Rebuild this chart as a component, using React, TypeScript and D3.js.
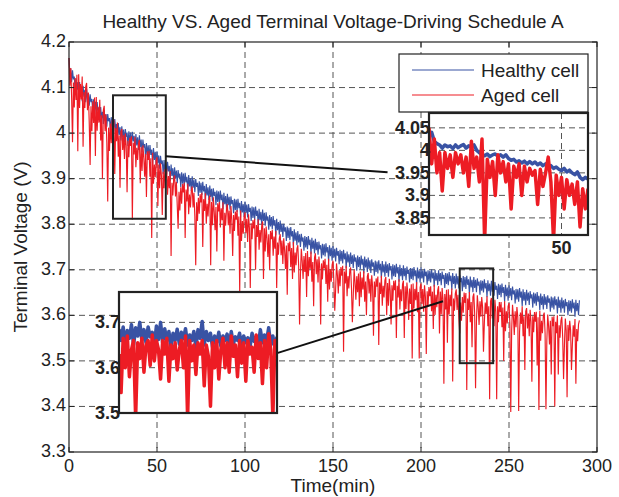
import React from "react";
import * as d3 from "d3";

// ---------- data ----------
const title = "Healthy VS. Aged Terminal Voltage-Driving Schedule A";
const xTicks = [0, 50, 100, 150, 200, 250, 300];
const yTicks = [3.3, 3.4, 3.5, 3.6, 3.7, 3.8, 3.9, 4.0, 4.1, 4.2];
const yTickLabels = ["3.3", "3.4", "3.5", "3.6", "3.7", "3.8", "3.9", "4", "4.1", "4.2"];
const seriesNames = ["Healthy cell", "Aged cell"];

// terminal voltage in mV, samples every 0.5 min from t = 0 to 290 min
const sampleStep = 0.5;
const healthyMv = [
  4165, 4128, 4142, 4112, 4138, 4118, 4124, 4094, 4120, 4095,
  4112, 4086, 4112, 4092, 4102, 4070, 4104, 4080, 4095, 4068,
  4097, 4072, 4088, 4060, 4085, 4068, 4075, 4046, 4074, 4050,
  4069, 4042, 4068, 4047, 4056, 4025, 4057, 4032, 4047, 4020,
  4050, 4026, 4042, 4014, 4042, 4026, 4033, 4004, 4035, 4009,
  4031, 4003, 4031, 4009, 4020, 3987, 4022, 3996, 4013, 3984,
  4015, 3990, 4008, 3980, 4009, 3992, 4001, 3972, 4004, 3979,
  4001, 3974, 4003, 3982, 3994, 3962, 3998, 3973, 3991, 3963,
  3995, 3969, 3986, 3958, 3986, 3968, 3976, 3947, 3978, 3952,
  3973, 3945, 3974, 3952, 3964, 3931, 3967, 3941, 3959, 3930,
  3960, 3934, 3951, 3922, 3950, 3932, 3940, 3910, 3941, 3915,
  3936, 3909, 3937, 3916, 3928, 3895, 3931, 3906, 3923, 3895,
  3925, 3900, 3918, 3890, 3919, 3902, 3911, 3882, 3914, 3889,
  3911, 3884, 3913, 3892, 3904, 3872, 3908, 3883, 3901, 3873,
  3905, 3880, 3898, 3870, 3899, 3882, 3891, 3862, 3894, 3869,
  3891, 3864, 3893, 3872, 3884, 3852, 3888, 3863, 3881, 3853,
  3885, 3860, 3878, 3850, 3879, 3862, 3871, 3842, 3874, 3849,
  3872, 3845, 3874, 3853, 3865, 3833, 3869, 3844, 3862, 3834,
  3867, 3842, 3860, 3832, 3861, 3844, 3853, 3824, 3856, 3831,
  3854, 3827, 3856, 3835, 3847, 3815, 3851, 3826, 3844, 3816,
  3850, 3825, 3843, 3815, 3844, 3827, 3836, 3807, 3839, 3814,
  3837, 3810, 3839, 3818, 3830, 3798, 3834, 3809, 3827, 3799,
  3832, 3807, 3825, 3797, 3826, 3808, 3817, 3788, 3820, 3795,
  3816, 3789, 3818, 3797, 3809, 3776, 3812, 3787, 3805, 3777,
  3808, 3783, 3801, 3772, 3801, 3784, 3793, 3763, 3795, 3770,
  3792, 3765, 3794, 3773, 3785, 3753, 3789, 3764, 3782, 3754,
  3785, 3760, 3778, 3750, 3779, 3762, 3771, 3742, 3774, 3749,
  3772, 3745, 3774, 3754, 3766, 3734, 3770, 3746, 3764, 3736,
  3768, 3743, 3761, 3733, 3762, 3745, 3754, 3725, 3757, 3732,
  3756, 3729, 3758, 3738, 3750, 3718, 3754, 3730, 3748, 3720,
  3752, 3727, 3746, 3718, 3748, 3731, 3741, 3712, 3744, 3719,
  3741, 3714, 3744, 3723, 3736, 3704, 3740, 3716, 3734, 3706,
  3738, 3713, 3732, 3704, 3734, 3718, 3727, 3698, 3731, 3706,
  3728, 3701, 3731, 3711, 3724, 3692, 3729, 3705, 3723, 3695,
  3727, 3702, 3721, 3693, 3723, 3707, 3716, 3687, 3720, 3695,
  3718, 3692, 3721, 3700, 3713, 3682, 3719, 3694, 3712, 3685,
  3718, 3693, 3712, 3685, 3715, 3699, 3708, 3679, 3712, 3686,
  3710, 3684, 3713, 3692, 3706, 3674, 3711, 3686, 3704, 3677,
  3710, 3686, 3704, 3677, 3707, 3691, 3700, 3672, 3704, 3680,
  3703, 3677, 3706, 3686, 3699, 3668, 3705, 3681, 3699, 3672,
  3705, 3681, 3699, 3672, 3702, 3686, 3696, 3667, 3699, 3675,
  3698, 3672, 3701, 3681, 3694, 3663, 3700, 3676, 3693, 3666,
  3699, 3675, 3693, 3666, 3696, 3680, 3689, 3660, 3693, 3669,
  3692, 3666, 3695, 3675, 3687, 3656, 3693, 3669, 3686, 3659,
  3692, 3668, 3686, 3659, 3689, 3673, 3682, 3653, 3686, 3662,
  3684, 3658, 3687, 3667, 3679, 3648, 3685, 3661, 3678, 3651,
  3684, 3660, 3678, 3651, 3681, 3665, 3674, 3645, 3677, 3654,
  3676, 3650, 3679, 3659, 3671, 3640, 3677, 3653, 3670, 3643,
  3676, 3652, 3670, 3643, 3673, 3656, 3665, 3636, 3669, 3645,
  3667, 3640, 3670, 3649, 3662, 3630, 3667, 3642, 3661, 3632,
  3666, 3642, 3660, 3633, 3663, 3646, 3655, 3626, 3658, 3635,
  3657, 3630, 3660, 3639, 3652, 3620, 3657, 3632, 3651, 3622,
  3656, 3632, 3650, 3623, 3653, 3637, 3646, 3617, 3650, 3626,
  3648, 3621, 3651, 3630, 3643, 3611, 3648, 3623, 3642, 3613,
  3647, 3623, 3641, 3614, 3644, 3628, 3637, 3608, 3641, 3617,
  3639, 3613, 3642, 3622, 3635, 3604, 3641, 3616, 3634, 3606,
  3639, 3615, 3633, 3606, 3636, 3620, 3629, 3600, 3633, 3609,
  3632, 3606, 3635, 3615, 3628, 3597, 3634, 3609, 3627, 3600,
  3633,
];

const agedMv = [
  4165, 4104, 4143, 4076, 3980, 4111, 4056, 4121, 4073, 4128,
  3960, 4129, 4055, 4108, 4074, 4124, 3970, 4090, 4055, 4102,
  4110, 4050, 4089, 4023, 3930, 4059, 4004, 4070, 4022, 4078,
  3950, 4079, 4005, 4058, 4023, 4073, 3984, 4039, 3900, 4050,
  4060, 4004, 4041, 3979, 3850, 4012, 3961, 4021, 3978, 4028,
  4007, 4030, 3910, 4011, 3982, 4023, 3948, 3995, 3880, 4003,
  4009, 3963, 3995, 3943, 3999, 3973, 3870, 3983, 3947, 3990,
  3972, 3993, 3810, 3979, 3953, 3992, 3925, 3968, 3941, 3978,
  3985, 3890, 3969, 3917, 3973, 3946, 3904, 3954, 3860, 3960,
  3941, 3961, 3904, 3945, 3770, 3957, 3889, 3931, 3903, 3939,
  3947, 3840, 3931, 3879, 3934, 3907, 3820, 3915, 3879, 3921,
  3902, 3922, 3865, 3906, 3879, 3917, 3730, 3891, 3863, 3899,
  3907, 3861, 3893, 3841, 3790, 3871, 3830, 3881, 3845, 3888,
  3870, 3891, 3770, 3876, 3850, 3889, 3822, 3865, 3837, 3874,
  3883, 3837, 3869, 3818, 3710, 3848, 3807, 3858, 3823, 3866,
  3848, 3869, 3750, 3855, 3829, 3868, 3801, 3845, 3817, 3855,
  3863, 3710, 3849, 3798, 3859, 3828, 3787, 3838, 3740, 3846,
  3828, 3849, 3793, 3835, 3809, 3848, 3720, 3825, 3797, 3835,
  3844, 3798, 3830, 3779, 3840, 3810, 3730, 3820, 3785, 3828,
  3810, 3831, 3775, 3817, 3650, 3830, 3763, 3807, 3779, 3817,
  3826, 3780, 3812, 3761, 3822, 3792, 3660, 3802, 3767, 3809,
  3791, 3812, 3700, 3798, 3772, 3811, 3744, 3787, 3760, 3797,
  3806, 3680, 3791, 3740, 3795, 3769, 3728, 3778, 3700, 3785,
  3767, 3788, 3731, 3773, 3746, 3785, 3660, 3760, 3733, 3769,
  3778, 3732, 3764, 3713, 3769, 3743, 3702, 3753, 3645, 3759,
  3741, 3762, 3706, 3748, 3680, 3761, 3694, 3738, 3710, 3746,
  3754, 3708, 3580, 3690, 3746, 3720, 3680, 3730, 3695, 3737,
  3640, 3741, 3686, 3728, 3702, 3740, 3674, 3717, 3620, 3727,
  3736, 3690, 3723, 3672, 3729, 3703, 3580, 3714, 3679, 3721,
  3703, 3724, 3669, 3711, 3630, 3724, 3657, 3701, 3674, 3711,
  3720, 3674, 3610, 3656, 3714, 3688, 3648, 3699, 3664, 3706,
  3687, 3709, 3520, 3696, 3670, 3709, 3642, 3686, 3659, 3697,
  3705, 3660, 3585, 3642, 3700, 3674, 3634, 3686, 3651, 3692,
  3620, 3696, 3640, 3683, 3657, 3697, 3630, 3674, 3600, 3685,
  3693, 3648, 3680, 3630, 3688, 3663, 3555, 3674, 3640, 3681,
  3663, 3685, 3535, 3672, 3647, 3687, 3621, 3665, 3639, 3677,
  3684, 3600, 3671, 3621, 3680, 3654, 3580, 3666, 3632, 3676,
  3655, 3677, 3550, 3665, 3639, 3679, 3613, 3657, 3631, 3668,
  3676, 3550, 3664, 3614, 3672, 3647, 3590, 3659, 3625, 3668,
  3505, 3670, 3615, 3658, 3633, 3673, 3607, 3651, 3505, 3661,
  3670, 3625, 3658, 3608, 3666, 3641, 3515, 3653, 3619, 3662,
  3642, 3664, 3609, 3652, 3570, 3667, 3601, 3645, 3618, 3655,
  3664, 3560, 3652, 3602, 3660, 3635, 3450, 3647, 3613, 3656,
  3540, 3657, 3602, 3645, 3620, 3659, 3455, 3637, 3610, 3648,
  3657, 3612, 3645, 3595, 3560, 3628, 3588, 3640, 3606, 3650,
  3627, 3649, 3436, 3637, 3612, 3651, 3585, 3629, 3530, 3640,
  3648, 3603, 3440, 3586, 3644, 3619, 3579, 3631, 3597, 3640,
  3618, 3520, 3585, 3628, 3603, 3642, 3576, 3620, 3416, 3631,
  3638, 3593, 3626, 3576, 3634, 3608, 3416, 3620, 3585, 3629,
  3607, 3629, 3574, 3617, 3500, 3631, 3565, 3609, 3582, 3620,
  3627, 3582, 3388, 3565, 3623, 3597, 3557, 3609, 3574, 3618,
  3596, 3390, 3563, 3606, 3581, 3620, 3554, 3598, 3480, 3609,
  3616, 3571, 3604, 3554, 3612, 3586, 3454, 3598, 3563, 3607,
  3586, 3608, 3490, 3596, 3392, 3610, 3544, 3588, 3561, 3599,
  3606, 3561, 3394, 3544, 3602, 3576, 3536, 3588, 3470, 3597,
  3576, 3598, 3400, 3586, 3561, 3600, 3470, 3578, 3551, 3588,
  3597, 3552, 3460, 3535, 3593, 3567, 3420, 3579, 3544, 3588,
  3568, 3480, 3535, 3578, 3553, 3592, 3450, 3570, 3543, 3580,
  3589,
];

// zoom inset 1: 25..55 min, 0.5-min steps (V)
const inset1Start = 25;
const inset1Step = 0.5;
const inset1Healthy = [
  4.03, 4.04, 4.02, 4.015, 4.012, 4.005, 4.012, 4.008, 4.01, 4.004,
  4.012, 4.006, 4.01, 4.013, 4.005, 4.01, 4.008, 4.012, 4.0, 3.995,
  3.99, 3.988, 3.992, 3.986, 3.99, 3.992, 3.987, 3.99, 3.985, 3.99,
  3.982, 3.978, 3.98, 3.974, 3.977, 3.972, 3.976, 3.97, 3.975, 3.97,
  3.974, 3.968, 3.972, 3.966, 3.97, 3.962, 3.966, 3.96, 3.963, 3.958,
  3.955, 3.96, 3.952, 3.956, 3.95, 3.946, 3.952, 3.94, 3.935, 3.94, 3.936,
];
const inset1Aged = [
  4.05, 3.97, 4.025, 3.95, 3.995, 3.91, 3.995, 3.96, 3.99, 3.94,
  3.995, 3.97, 3.99, 3.95, 3.985, 3.92, 4.02, 3.96, 3.985, 3.93,
  4.025, 3.8, 3.98, 3.94, 3.975, 3.9, 3.99, 3.95, 3.975, 3.93,
  3.97, 3.87, 3.965, 3.94, 3.97, 3.9, 3.965, 3.93, 3.96, 3.945,
  3.955, 3.88, 3.958, 3.92, 3.95, 3.985, 3.93, 3.8, 3.945, 3.9,
  3.94, 3.87, 3.935, 3.9, 3.925, 3.88, 3.93, 3.83, 3.915, 3.87, 3.915,
];

// zoom inset 2: 222..241 min, 0.25-min steps (V)
const inset2Start = 222;
const inset2Step = 0.25;
const inset2Healthy = [
  3.685, 3.66, 3.69, 3.655, 3.682, 3.665, 3.695, 3.65, 3.688, 3.67, 3.7, 3.66, 3.684, 3.655, 3.69, 3.668, 3.678, 3.65, 3.692, 3.662,
  3.7, 3.655, 3.686, 3.66, 3.68, 3.645, 3.676, 3.66, 3.685, 3.652, 3.678, 3.664, 3.686, 3.65, 3.672, 3.66, 3.68, 3.645, 3.684, 3.665,
  3.702, 3.65, 3.68, 3.66, 3.676, 3.645, 3.67, 3.655, 3.678, 3.648, 3.67, 3.66, 3.674, 3.645, 3.68, 3.652, 3.668, 3.66, 3.676, 3.648,
  3.67, 3.655, 3.666, 3.645, 3.676, 3.658, 3.668, 3.65, 3.684, 3.655, 3.672, 3.66, 3.688, 3.65, 3.67, 3.645, 3.668,
];
const inset2Aged = [
  3.63, 3.545, 3.665, 3.6, 3.67, 3.58, 3.64, 3.66, 3.49, 3.655, 3.62, 3.665, 3.59, 3.65, 3.66, 3.605, 3.672, 3.615, 3.66, 3.64,
  3.575, 3.66, 3.63, 3.665, 3.57, 3.65, 3.62, 3.655, 3.595, 3.64, 3.66, 3.6, 3.67, 3.49, 3.66, 3.615, 3.65, 3.585, 3.655, 3.63,
  3.66, 3.56, 3.65, 3.625, 3.515, 3.655, 3.6, 3.66, 3.575, 3.64, 3.665, 3.6, 3.655, 3.59, 3.67, 3.625, 3.65, 3.58, 3.66, 3.61,
  3.655, 3.57, 3.66, 3.63, 3.645, 3.59, 3.672, 3.62, 3.655, 3.565, 3.66, 3.6, 3.675, 3.64, 3.49, 3.66, 3.62,
];

const inset1XDomain = [25, 55];
const inset1YDomain = [3.812, 4.083];
const inset1YTicks = [3.85, 3.9, 3.95, 4.0, 4.05];
const inset1YTickLabels = ["3.85", "3.9", "3.95", "4", "4.05"];
const inset1XTicks = [50];
const inset2XDomain = [222, 241];
const inset2YDomain = [3.5, 3.767];
const inset2YTicks = [3.5, 3.6, 3.7];
const inset2YTickLabels = ["3.5", "3.6", "3.7"];
const box2YDomain = [3.495, 3.703];

// connector lines, in main data coordinates [t, V]
const connector1 = [[55, 3.949], [181, 3.914]];
const connector2 = [[118.2, 3.517], [212.5, 3.631]];

// ---------- layout ----------
const W = 619, H = 497;
const PL = 69, PR = 597, PT = 42, PB = 452;
const BLUE = "#3953a4";
const RED = "#ed1c24";
const FONT = "'Liberation Sans', Arial, Helvetica, sans-serif";
const GRID = "#555";
const inset1Box = { x0: 429, x1: 588, y0: 113, y1: 235 };
const inset2Box = { x0: 119, x1: 277, y0: 292, y1: 413 };

export default function App() {
  const x = d3.scaleLinear().domain([0, 300]).range([PL, PR]);
  const y = d3.scaleLinear().domain([3.3, 4.2]).range([PB, PT]);

  const mainLine = d3
    .line<number>()
    .x((_, i) => x(i * sampleStep))
    .y((d) => y(d / 1000));

  const i1x = d3.scaleLinear().domain(inset1XDomain).range([inset1Box.x0, inset1Box.x1]);
  const i1y = d3.scaleLinear().domain(inset1YDomain).range([inset1Box.y1, inset1Box.y0]);
  const i2x = d3.scaleLinear().domain(inset2XDomain).range([inset2Box.x0, inset2Box.x1]);
  const i2y = d3.scaleLinear().domain(inset2YDomain).range([inset2Box.y1, inset2Box.y0]);

  const i1Line = d3
    .line<number>()
    .x((_, i) => i1x(inset1Start + i * inset1Step))
    .y((d) => i1y(d));
  const i2Line = d3
    .line<number>()
    .x((_, i) => i2x(inset2Start + i * inset2Step))
    .y((d) => i2y(d));

  const tick = 5;

  return (
    <svg
      width={W}
      height={H}
      style={{ position: "absolute", left: 0, top: 0, background: "#fff" }}
      fontFamily={FONT}
    >
      <defs>
        <clipPath id="c1">
          <rect x={inset1Box.x0} y={inset1Box.y0} width={inset1Box.x1 - inset1Box.x0} height={inset1Box.y1 - inset1Box.y0} />
        </clipPath>
        <clipPath id="c2">
          <rect x={inset2Box.x0} y={inset2Box.y0} width={inset2Box.x1 - inset2Box.x0} height={inset2Box.y1 - inset2Box.y0} />
        </clipPath>
      </defs>
      <rect x={0} y={0} width={W} height={H} fill="#fff" />

      {/* grid */}
      {xTicks.slice(1, -1).map((t) => (
        <line key={"gx" + t} x1={x(t)} x2={x(t)} y1={PT} y2={PB} stroke={GRID} strokeDasharray="6,4" strokeWidth={1} />
      ))}
      {yTicks.slice(1, -1).map((t) => (
        <line key={"gy" + t} x1={PL} x2={PR} y1={y(t)} y2={y(t)} stroke={GRID} strokeDasharray="6,4" strokeWidth={1} />
      ))}

      {/* series */}
      <path d={mainLine(healthyMv) || ""} fill="none" stroke={BLUE} strokeWidth={1.15} />
      <path d={mainLine(agedMv) || ""} fill="none" stroke={RED} strokeWidth={1.15} />

      {/* axes box + ticks */}
      <rect x={PL} y={PT} width={PR - PL} height={PB - PT} fill="none" stroke="#222" strokeWidth={1.2} />
      {xTicks.map((t) => (
        <g key={"tx" + t}>
          <line x1={x(t)} x2={x(t)} y1={PB} y2={PB - tick} stroke="#222" />
          <line x1={x(t)} x2={x(t)} y1={PT} y2={PT + tick} stroke="#222" />
          <text x={x(t)} y={PB + 20} textAnchor="middle" fontSize={18} fill="#222">
            {t}
          </text>
        </g>
      ))}
      {yTicks.map((t, i) => (
        <g key={"ty" + t}>
          <line x1={PL} x2={PL + tick} y1={y(t)} y2={y(t)} stroke="#222" />
          <line x1={PR} x2={PR - tick} y1={y(t)} y2={y(t)} stroke="#222" />
          <text x={PL - 3} y={y(t) + 5} textAnchor="end" fontSize={18} fill="#222">
            {yTickLabels[i]}
          </text>
        </g>
      ))}

      {/* zoom boxes on main chart */}
      <rect
        x={x(inset1XDomain[0])}
        y={y(inset1YDomain[1])}
        width={x(inset1XDomain[1]) - x(inset1XDomain[0])}
        height={y(inset1YDomain[0]) - y(inset1YDomain[1])}
        fill="none"
        stroke="#222"
        strokeWidth={2}
      />
      <rect
        x={x(inset2XDomain[0])}
        y={y(box2YDomain[1])}
        width={x(inset2XDomain[1]) - x(inset2XDomain[0])}
        height={y(box2YDomain[0]) - y(box2YDomain[1])}
        fill="none"
        stroke="#222"
        strokeWidth={2}
      />
      <line x1={x(connector1[0][0])} y1={y(connector1[0][1])} x2={x(connector1[1][0])} y2={y(connector1[1][1])} stroke="#111" strokeWidth={2} />
      <line x1={x(connector2[0][0])} y1={y(connector2[0][1])} x2={x(connector2[1][0])} y2={y(connector2[1][1])} stroke="#111" strokeWidth={2} />

      {/* legend */}
      <rect x={399} y={54} width={189} height={58} fill="#fff" stroke="#222" strokeWidth={1.2} />
      <line x1={412} x2={474} y1={70} y2={70} stroke={BLUE} strokeWidth={1.2} />
      <line x1={412} x2={474} y1={95} y2={95} stroke={RED} strokeWidth={1.2} />
      <text x={481} y={77} fontSize={19} fill="#222">{seriesNames[0]}</text>
      <text x={481} y={102} fontSize={19} fill="#222">{seriesNames[1]}</text>

      {/* inset 1 */}
      <rect x={inset1Box.x0} y={inset1Box.y0} width={inset1Box.x1 - inset1Box.x0} height={inset1Box.y1 - inset1Box.y0} fill="#fff" />
      {inset1YTicks.map((t) => (
        <line key={"i1g" + t} x1={inset1Box.x0} x2={inset1Box.x1} y1={i1y(t)} y2={i1y(t)} stroke={GRID} strokeDasharray="6,4" />
      ))}
      {inset1XTicks.map((t) => (
        <line key={"i1gx" + t} x1={i1x(t)} x2={i1x(t)} y1={inset1Box.y0} y2={inset1Box.y1} stroke={GRID} strokeDasharray="6,4" />
      ))}
      <g clipPath="url(#c1)">
        <path d={i1Line(inset1Healthy) || ""} fill="none" stroke={BLUE} strokeWidth={3.5} strokeLinejoin="round" />
        <path d={i1Line(inset1Aged) || ""} fill="none" stroke={RED} strokeWidth={3.5} strokeLinejoin="round" />
      </g>
      <rect x={inset1Box.x0} y={inset1Box.y0} width={inset1Box.x1 - inset1Box.x0} height={inset1Box.y1 - inset1Box.y0} fill="none" stroke="#222" strokeWidth={2.2} />
      {inset1YTicks.map((t, i) => (
        <text key={"i1t" + t} x={inset1Box.x0 + 1} y={i1y(t) + 6} textAnchor="end" fontSize={18} fontWeight="bold" fill="#222">
          {inset1YTickLabels[i]}
        </text>
      ))}
      {inset1XTicks.map((t) => (
        <text key={"i1xt" + t} x={i1x(t)} y={inset1Box.y1 + 19} textAnchor="middle" fontSize={18} fontWeight="bold" fill="#222">
          {t}
        </text>
      ))}

      {/* inset 2 */}
      <rect x={inset2Box.x0} y={inset2Box.y0} width={inset2Box.x1 - inset2Box.x0} height={inset2Box.y1 - inset2Box.y0} fill="#fff" />
      {inset2YTicks.map((t) => (
        <line key={"i2g" + t} x1={inset2Box.x0} x2={inset2Box.x1} y1={i2y(t)} y2={i2y(t)} stroke={GRID} strokeDasharray="6,4" />
      ))}
      <g clipPath="url(#c2)">
        <path d={i2Line(inset2Healthy) || ""} fill="none" stroke={BLUE} strokeWidth={3.5} strokeLinejoin="round" />
        <path d={i2Line(inset2Aged) || ""} fill="none" stroke={RED} strokeWidth={3.5} strokeLinejoin="round" />
      </g>
      <rect x={inset2Box.x0} y={inset2Box.y0} width={inset2Box.x1 - inset2Box.x0} height={inset2Box.y1 - inset2Box.y0} fill="none" stroke="#222" strokeWidth={2.2} />
      {inset2YTicks.map((t, i) => (
        <text key={"i2t" + t} x={inset2Box.x0 + 1} y={i2y(t) + 6} textAnchor="end" fontSize={18} fontWeight="bold" fill="#222">
          {inset2YTickLabels[i]}
        </text>
      ))}

      {/* titles */}
      <text x={(PL + PR) / 2} y={28} textAnchor="middle" fontSize={19} fill="#222">
        {title}
      </text>
      <text x={(PL + PR) / 2} y={492} textAnchor="middle" fontSize={19} fill="#222">
        Time(min)
      </text>
      <text transform={`translate(27, ${(PT + PB) / 2}) rotate(-90)`} textAnchor="middle" fontSize={19} fill="#222">
        Terminal Voltage (V)
      </text>
    </svg>
  );
}
